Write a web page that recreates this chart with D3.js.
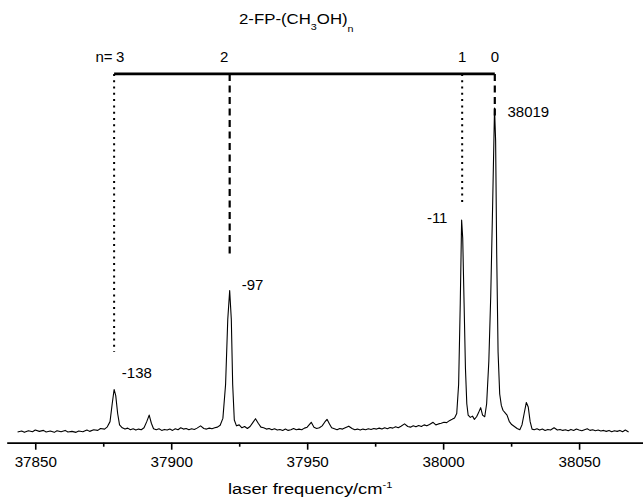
<!DOCTYPE html>
<html>
<head>
<meta charset="utf-8">
<script src="https://cdn.jsdelivr.net/npm/d3@7"></script>
<style>
body { margin: 0; background: #fff; }
svg text { font-family: "Liberation Sans", Arial, sans-serif; fill: #000; }
</style>
</head>
<body>
<div id="chart"></div>
<script>
// spectrum (cm-1, intensity in arbitrary units, top peak = 100)
var freq = [
	37843.5, 37845, 37846, 37847.5, 37849, 37850, 37851.5, 37853, 37854, 37855.5,
	37857, 37858, 37859.5, 37861, 37862, 37863.5, 37865, 37866, 37867.5, 37869,
	37870, 37871.5, 37873, 37874, 37875.5, 37876.5, 37877.5, 37878.3, 37879, 37879.6,
	37880.3, 37881, 37882, 37883, 37884, 37885, 37886, 37887, 37888, 37889,
	37890, 37891, 37891.9, 37892.7, 37893.5, 37894.5, 37895.5, 37896.5, 37897.5, 37898.5,
	37899.5, 37900.5, 37901.5, 37902.5, 37903.5, 37904.5, 37905.5, 37906.5, 37907.5, 37908.5,
	37909.5, 37910.8, 37912, 37913, 37914, 37915, 37916, 37917, 37918, 37919,
	37920, 37920.8, 37921.5, 37922.1, 37922.6, 37923.2, 37924, 37925, 37926, 37927,
	37928, 37929, 37930, 37931, 37932, 37933, 37934, 37935, 37936, 37937,
	37938, 37939, 37940, 37941, 37942, 37943, 37944, 37945, 37946, 37947,
	37948, 37949, 37950, 37951.5, 37952.5, 37953.5, 37954.5, 37955.5, 37956.5, 37957.3,
	37958.2, 37959, 37960, 37961, 37962, 37963, 37964, 37965.3, 37966.5, 37967.5,
	37968.5, 37969.5, 37970.5, 37971.5, 37972.5, 37973.5, 37974.5, 37975.5, 37976.5, 37977.5,
	37978.5, 37979.5, 37980.5, 37981.5, 37982.5, 37983.5, 37984.5, 37985.8, 37987, 37988,
	37989, 37990, 37991, 37992, 37993, 37994, 37995, 37996.3, 37997.3, 37998.3,
	37999.3, 38000.3, 38001.3, 38002.3, 38003.3, 38004.2, 38005, 38005.7, 38006.3, 38006.8,
	38007.2, 38007.7, 38008.2, 38008.7, 38009.2, 38010, 38010.8, 38011.5, 38012.3, 38013,
	38013.8, 38014.5, 38015.3, 38016, 38016.8, 38017.5, 38018.2, 38018.9, 38019.3, 38019.7,
	38020.2, 38020.8, 38021.4, 38022, 38022.8, 38023.5, 38024.3, 38025.2, 38026.2, 38027.2,
	38028.2, 38029, 38029.8, 38030.6, 38031.3, 38032, 38032.7, 38033.5, 38034.5, 38035.5,
	38036.5, 38037.5, 38038.5, 38039.5, 38040.8, 38042, 38043, 38044, 38045, 38046,
	38047, 38048, 38049, 38050, 38051, 38052, 38053, 38054, 38055, 38056,
	38057, 38058, 38059, 38060, 38061, 38062, 38063, 38064, 38065, 38066,
	38067, 38068.2
];
var signal = [
	0.3, 0.6, 0.2, 0.7, 0.4, 0.9, 0.5, 0.8, 0.3, 0.6,
	0.2, 0.7, 0.4, 0.8, 0.3, 0.5, 0.2, 0.6, 0.4, 0.9,
	0.5, 1.0, 0.8, 1.4, 1.2, 1.9, 3.5, 9, 13.4, 11.5,
	6, 2.5, 1.6, 1.2, 1.5, 1.0, 1.3, 0.9, 1.2, 1.0,
	1.6, 3.5, 5.5, 3, 1.3, 1.0, 1.3, 0.8, 1.1, 0.9,
	1.2, 0.8, 1.3, 1.0, 1.6, 1.2, 1.4, 1.0, 1.3, 1.1,
	1.5, 2.2, 1.4, 1.2, 1.5, 1.3, 1.6, 1.8, 2.4, 4.5,
	15, 35, 43.8, 35, 15, 4, 2.2, 2.5, 1.6, 2.0,
	1.4, 2.0, 3.2, 4.4, 3.0, 1.8, 1.6, 1.2, 1.4, 1.0,
	1.3, 0.9, 1.1, 0.8, 1.2, 0.8, 1.0, 1.4, 1.0, 1.2,
	1.0, 1.5, 1.8, 3.3, 1.8, 1.4, 1.6, 2.2, 3.4, 4.2,
	2.8, 1.6, 1.3, 1.0, 1.4, 1.2, 1.6, 2.1, 1.4, 1.0,
	1.2, 0.9, 1.2, 1.0, 1.3, 1.1, 1.4, 1.2, 1.5, 1.2,
	1.6, 1.3, 1.7, 1.5, 1.9, 1.6, 2.1, 2.8, 2.0, 1.8,
	2.2, 1.9, 2.3, 2.0, 2.5, 2.2, 2.6, 3.3, 2.5, 2.8,
	3.0, 3.3, 3.2, 3.8, 4.2, 4.6, 6, 15, 40, 65.5,
	60, 40, 20, 9, 5.5, 4.8, 5.2, 4.2, 5.0, 6.2,
	7.8, 5.5, 5.0, 9, 22, 42, 70, 100, 90, 55,
	25, 12, 8.5, 7, 6.2, 5.5, 3.6, 2.6, 2.0, 1.4,
	1.0, 2.5, 6, 9.4, 8, 3.5, 1.2, 1.0, 1.3, 0.9,
	1.2, 0.8, 1.1, 0.9, 1.6, 0.9, 1.1, 0.8, 1.0, 0.7,
	1.1, 0.8, 1.2, 0.9, 0.7, 1.0, 1.3, 0.8, 1.0, 0.7,
	0.9, 0.6, 0.8, 0.5, 0.8, 0.4, 0.7, 0.5, 0.8, 0.4,
	0.9, 0.3
];

// cluster assignments n = 3,2,1,0
var clusterN = ["3", "2", "1", "0"];
var clusterPos = [37879, 37921.5, 38007, 38019];
var clusterPeak = [13.4, 43.8, 65.5, 100];
var clusterLineTo = [25, 54, 71, 97];
var peakLabels = ["-138", "-97", "-11", "38019"];

var majorTicks = [37850, 37900, 37950, 38000, 38050];
var minorTicks = [37875, 37925, 37975, 38025];
var barLevel = 110.5;
var nLabelLevel = 114.2;

var width = 643,
	height = 500;

var svg = d3
	.select("#chart")
	.append("svg")
	.attr("width", width)
	.attr("height", height);

var x = d3.scaleLinear().domain([37839.5, 38073.5]).range([6.7, 643]);
var y = d3.scaleLinear().domain([0, 100]).range([433, 108]);

var axisY = 442.7;

// minor ticks
svg.append("g")
	.attr("transform", "translate(0," + axisY + ")")
	.call(d3.axisBottom(x).tickValues(minorTicks).tickSize(4).tickSizeOuter(0).tickFormat(""))
	.call(function (g) {
		g.select(".domain").remove();
		g.selectAll("line").attr("stroke-width", 1.6);
	});

// major ticks + axis line
svg.append("g")
	.attr("transform", "translate(0," + axisY + ")")
	.call(d3.axisBottom(x).tickValues(majorTicks).tickSize(7).tickSizeOuter(0).tickPadding(6.3).tickFormat(d3.format("d")))
	.call(function (g) {
		g.select(".domain").attr("stroke-width", 1.7);
		g.selectAll("line").attr("stroke-width", 1.6);
		g.selectAll("text")
			.style("font-size", "15.2px")
			.style("font-family", "'Liberation Sans', Arial, sans-serif");
	});

// spectrum
var pts = freq.map(function (f, i) {
	return [f, signal[i]];
});

var line = d3
	.line()
	.x(function (d) {
		return x(d[0]);
	})
	.y(function (d) {
		return y(d[1]);
	});

svg.append("path")
	.datum(pts)
	.attr("d", line)
	.attr("fill", "none")
	.attr("stroke", "#000")
	.attr("stroke-width", 1.1)
	.attr("stroke-linejoin", "round");

// cluster bar on top
svg.append("line")
	.attr("x1", x(clusterPos[0]))
	.attr("x2", x(clusterPos[3]))
	.attr("y1", y(barLevel))
	.attr("y2", y(barLevel))
	.attr("stroke", "#000")
	.attr("stroke-width", 2.7);

// vertical markers: dotted for odd n, dashed for even n
svg.selectAll(".marker")
	.data(clusterPos)
	.enter()
	.append("line")
	.attr("class", "marker")
	.attr("x1", function (d) {
		return x(d);
	})
	.attr("x2", function (d) {
		return x(d);
	})
	.attr("y1", y(barLevel))
	.attr("y2", function (d, i) {
		return y(clusterLineTo[i]);
	})
	.attr("stroke", "#000")
	.attr("stroke-width", function (d, i) {
		return +clusterN[i] % 2 ? 2 : 2.2;
	})
	.attr("stroke-dasharray", function (d, i) {
		return +clusterN[i] % 2 ? "2,4.3" : "7,4.5";
	});

// n labels
var nShift = [6, -5.5, 0, 0];
svg.selectAll(".nlab")
	.data(clusterN)
	.enter()
	.append("text")
	.attr("class", "nlab")
	.attr("x", function (d, i) {
		return x(clusterPos[i]) + nShift[i];
	})
	.attr("y", y(nLabelLevel))
	.attr("text-anchor", "middle")
	.style("font-size", "15px")
	.text(function (d) {
		return d;
	});

svg.append("text")
	.attr("x", x(clusterPos[0]) - 1.5)
	.attr("y", y(nLabelLevel))
	.attr("text-anchor", "end")
	.style("font-size", "15px")
	.text("n=");

// peak shift labels
var labDx = [7.7, 12, -14.7, 12.7];
var labDy = [-11.6, -0.7, 3, 9];
var labAnchor = ["start", "start", "end", "start"];
svg.selectAll(".plab")
	.data(peakLabels)
	.enter()
	.append("text")
	.attr("class", "plab")
	.attr("x", function (d, i) {
		return x(clusterPos[i]) + labDx[i];
	})
	.attr("y", function (d, i) {
		return y(clusterPeak[i]) + labDy[i];
	})
	.attr("text-anchor", function (d, i) {
		return labAnchor[i];
	})
	.style("font-size", "15px")
	.text(function (d) {
		return d;
	});

// title 2-FP-(CH3OH)n
var title = svg
	.append("text")
	.attr("transform", "translate(239,24) scale(1.2,1)")
	.style("font-size", "14px");
title.append("tspan").text("2-FP-(CH");
title.append("tspan").attr("dy", 6).style("font-size", "9px").text("3");
title.append("tspan").attr("dy", -6).text("OH)");
title.append("tspan").attr("dy", 8).style("font-size", "9px").text("n");

// x axis title
var xt = svg
	.append("text")
	.attr("transform", "translate(228,494) scale(1.22,1)")
	.style("font-size", "15px");
xt.append("tspan").text("laser frequency/cm");
xt.append("tspan").attr("dy", -6).style("font-size", "9px").text("-1");
</script>
</body>
</html>
